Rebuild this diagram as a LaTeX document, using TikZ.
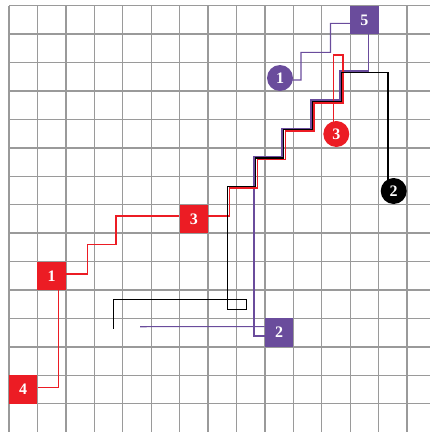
\documentclass[tikz,border=0pt]{standalone}
\usepackage{fontspec}
\setmainfont{Liberation Serif}
\usetikzlibrary{calc}
\definecolor{gridgray}{HTML}{9A9A9A}
\definecolor{myred}{HTML}{EC1C24}
\definecolor{mypurple}{HTML}{6A4C9C}
\pgfdeclarelayer{back}
\pgfsetlayers{back,main}
\begin{document}
\begin{tikzpicture}[x=1pt,y=-1pt,
  numfont/.style={text=white, font=\fontsize{16}{16}\selectfont\bfseries},
  sq/.style={rectangle, minimum size=28.4pt, inner sep=0pt, numfont},
  rsq/.style={sq, fill=myred},
  psq/.style={sq, fill=mypurple},
  circ/.style={circle, minimum size=26pt, inner sep=0pt, numfont},
  gridline/.style={gridgray, line width=1.3pt},
  rline/.style={myred, line width=1.2pt},
  pline/.style={mypurple, line width=1.1pt},
  kline/.style={black, line width=1.3pt}]
\useasboundingbox (0,0) rectangle (430,432);
% nodes
\node[rsq] (s4) at (23.2,389.5) {4};
\node[rsq] (s1) at (51.6,275.8) {1};
\node[rsq] (s3) at (193.8,218.9) {3};
\node[psq] (p2) at (279.1,332.6) {2};
\node[psq] (p5) at (364.4,19.9) {5};
\node[circ, fill=mypurple] (c1) at (280,78) {1};
\node[circ, fill=myred] (c3) at (336.3,134) {3};
\node[circ, fill=black] (c2) at (393.7,191) {2};
\coordinate (kend) at (113.3,329);
\coordinate (pend) at (140,326.7);
\begin{pgfonlayer}{back}
% grid
\foreach \i in {0,...,14}
  \draw[gridline] ({9+28.43*\i},5.7) -- ({9+28.43*\i},432);
\foreach \j in {0,...,14}
  \draw[gridline] (9,{5.7+28.43*\j}) -- (430,{5.7+28.43*\j});
% purple connectors
\draw[pline] ([yshift=-2pt]c1.center) -- (301,80) -- (301,52.3) -- (330.5,52.3)
  -- (330.5,23.3) -- ([yshift=-3.4pt]p5.west);
\draw[pline] ([xshift=3.8pt]p5.south) -- (368.2,71) -- (340,71) -- (340,100)
  -- (311,100) -- (311,128.3) -- (282,128.3) -- (282,156.5) -- (254,156.5)
  -- (254,336) -- ([yshift=-3.4pt]p2.west);
\draw[pline] (pend) -- ([yshift=6pt]p2.west);
% red connectors
\draw[rline] ([yshift=1.8pt]s4.east) -| ([xshift=7.1pt]s1.south);
\draw[rline] ([yshift=1.8pt]s1.east) -| (87.3,244.3) -| (116,215.9)
  -- ([yshift=3pt]s3.west);
\draw[rline] ([yshift=3pt]s3.east) -- (229.5,215.9) -- (229.5,188) -- (257.3,188)
  -- (257.3,159.5) -- (285.5,159.5) -- (285.5,131) -- (314,131) -- (314,103)
  -- (343,103) -- (343,55) -- (333.3,55) -- ([xshift=-3pt]c3.center);
% black connector
\draw[kline] ([xshift=-5.7pt]c2.center) -- (388,72.3) -- (341.7,72.3)
  -- (341.7,101.3) -- (312.5,101.3) -- (312.5,129.5) -- (283.5,129.5)
  -- (283.5,158) -- (255.5,158) -- (255.5,186.5) -- (227.5,186.5)
  -- (227.5,309.3) -- (246.7,309.3) -- (246.7,299.5) -- (113.3,299.5) -- (kend);
\end{pgfonlayer}
\end{tikzpicture}
\end{document}
